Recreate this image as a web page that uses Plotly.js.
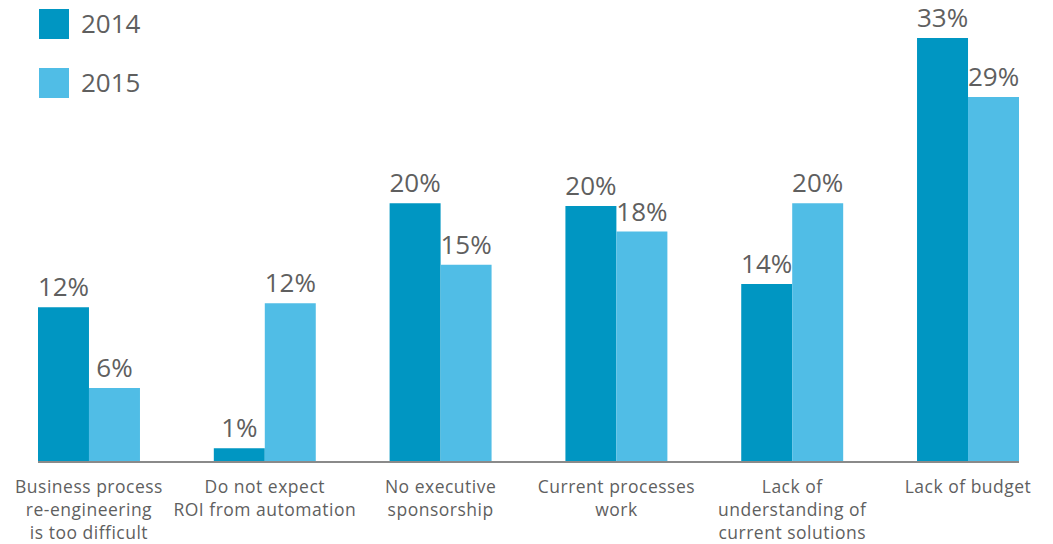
<!DOCTYPE html>
<html>
<head>
<meta charset="utf-8">
<script src="https://cdn.plot.ly/plotly-3.0.1.min.js"></script>
<style>
html,body{margin:0;padding:0;background:#fff;}
#chart{width:1053px;height:544px;}
#chart .xtick text{letter-spacing:0.5px;}
</style>
</head>
<body>
<div id="chart"></div>
<script>
const categories = [
  "Business process<br>re-engineering<br>is too difficult",
  "Do not expect<br>ROI from automation",
  "No executive<br>sponsorship",
  "Current processes<br>work",
  "Lack of<br>understanding of<br>current solutions",
  "Lack of budget"
];
const values2014 = [12.0, 1.0, 20.1, 19.9, 13.8, 33.0];
const values2015 = [5.7, 12.3, 15.3, 17.9, 20.1, 28.4];
const labels2014 = ["12%", "1%", "20%", "20%", "14%", "33%"];
const labels2015 = ["6%", "12%", "15%", "18%", "20%", "29%"];
const seriesNames = ["2014", "2015"];
const colors = ["#0096c2", "#50bde6"];

const textColor = "#5f5f5f";
const font = "'Open Sans', 'Noto Sans', sans-serif";
const W = 1053, ML = 38, MR = 34, MT = 0, MB = 83;
const plotW = W - ML - MR, plotH = 544 - MT - MB;
const px = x => (x - ML) / plotW;
const py = y => 1 - (y - MT) / plotH;

const xIdx = categories.map((_, i) => i);
const traces = [
  {type: "bar", x: xIdx, y: values2014, name: seriesNames[0], text: labels2014,
   marker: {color: colors[0]}},
  {type: "bar", x: xIdx, y: values2015, name: seriesNames[1], text: labels2015,
   marker: {color: colors[1]}}
].map(t => Object.assign(t, {
  textposition: "outside", constraintext: "none", cliponaxis: false,
  textfont: {family: font, size: 26, color: textColor},
  hoverinfo: "none"
}));

const shapes = [], annotations = [];
seriesNames.forEach((n, i) => {
  const top = 9 + i * 59;
  shapes.push({type: "rect", xref: "paper", yref: "paper",
    x0: px(39), x1: px(69), y0: py(top + 30), y1: py(top),
    fillcolor: colors[i], line: {width: 0}});
  annotations.push({xref: "paper", yref: "paper", x: px(79), y: py(top + 14),
    xanchor: "left", yanchor: "middle", text: n, showarrow: false,
    font: {family: font, size: 26, color: textColor}});
});

const layout = {
  width: W, height: 544,
  margin: {l: ML, r: MR, t: MT, b: MB, pad: 0},
  paper_bgcolor: "#fff", plot_bgcolor: "#fff",
  showlegend: false,
  barmode: "group", bargap: 0.42, bargroupgap: 0,
  xaxis: {range: [-0.29, 5.29], tickvals: xIdx, ticktext: categories,
    showline: true, linecolor: "#8a8a8a", linewidth: 2, showgrid: false,
    zeroline: false, ticks: "", fixedrange: true, ticklabelstandoff: 9,
    tickfont: {family: font, size: 17.5, color: textColor}},
  yaxis: {range: [0, plotH / 12.82], visible: false, showgrid: false, zeroline: false},
  shapes: shapes, annotations: annotations
};

Plotly.newPlot("chart", traces, layout, {displayModeBar: false, staticPlot: true});
</script>
</body>
</html>
